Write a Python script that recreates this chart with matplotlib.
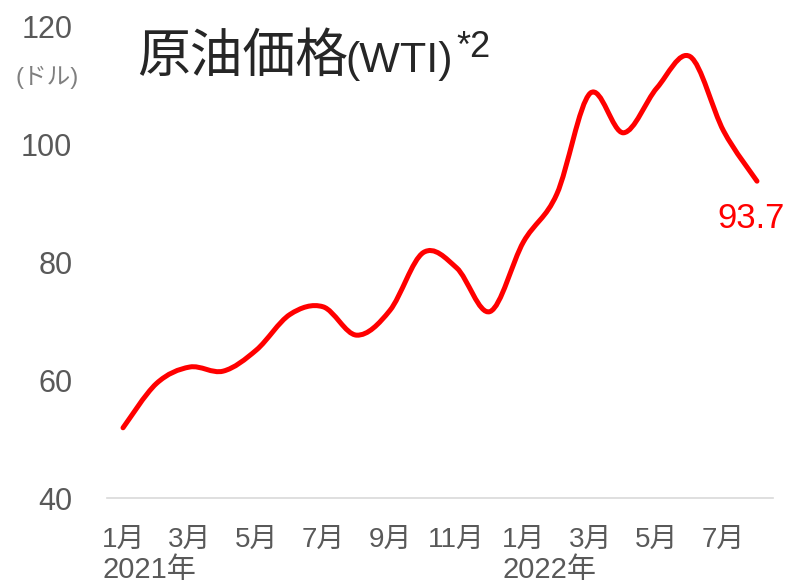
import matplotlib
matplotlib.use("Agg")
import matplotlib.pyplot as plt
from matplotlib.path import Path
from matplotlib.patches import PathPatch

plt.rcParams['font.family'] = ['Liberation Sans', 'Noto Sans CJK JP', 'DejaVu Sans']

# monthly WTI average, Jan 2021 - Aug 2022 (USD/bbl)
months = ["1月", "2月", "3月", "4月", "5月", "6月", "7月", "8月", "9月", "10月", "11月", "12月",
          "1月", "2月", "3月", "4月", "5月", "6月", "7月", "8月"]
prices = [51.9, 59.4, 62.2, 61.5, 65.1, 71.1, 72.4, 67.6, 71.8, 81.6, 79.0, 71.6,
          83.4, 91.5, 108.6, 101.9, 109.5, 114.8, 102.2, 93.7]
year_labels = [(0, "2021年"), (12, "2022年")]
y_ticks = [40, 60, 80, 100, 120]
last_label = "93.7"

W, H = 793, 584
fig = plt.figure(figsize=(W / 100, H / 100), dpi=100)
ax = fig.add_axes([107 / W, (H - 498) / H, 666 / W, 472 / H])

x = list(range(len(prices)))

# smoothed line (Excel style cubic bezier through the points)
pts = list(zip(x, prices))
verts = [pts[0]]
codes = [Path.MOVETO]
n = len(pts)
for i in range(n - 1):
    p0 = pts[max(i - 1, 0)]
    p1 = pts[i]
    p2 = pts[i + 1]
    p3 = pts[min(i + 2, n - 1)]
    c1 = (p1[0] + (p2[0] - p0[0]) / 6, p1[1] + (p2[1] - p0[1]) / 6)
    c2 = (p2[0] - (p3[0] - p1[0]) / 6, p2[1] - (p3[1] - p1[1]) / 6)
    verts += [c1, c2, p2]
    codes += [Path.CURVE4] * 3
ax.add_patch(PathPatch(Path(verts, codes), facecolor="none", edgecolor="#ff0000",
                       lw=3.6, capstyle="round", joinstyle="round"))

ax.set_xlim(-0.48, len(prices) - 0.52)
ax.set_ylim(40, 120)

for s in ["top", "right", "left"]:
    ax.spines[s].set_visible(False)
ax.spines["bottom"].set_color("#d9d9d9")
ax.spines["bottom"].set_linewidth(1.2)

ax.set_yticks(y_ticks)
ax.set_yticklabels([str(v) for v in y_ticks])
ax.tick_params(axis="y", length=0, labelsize=22, labelcolor="#595959", pad=25)
ax.set_xticks(x[::2])
ax.set_xticklabels(months[::2])
ax.tick_params(axis="x", length=0, labelsize=20, labelcolor="#595959", pad=21)

for idx, lab in year_labels:
    ax.annotate(lab, xy=(idx, 0), xycoords=("data", "axes fraction"),
                xytext=(-15, -52), textcoords="offset points",
                ha="left", va="center", fontsize=21, color="#595959")

ax.annotate(last_label, xy=(x[-1], prices[-1]), xytext=(20, -27),
            textcoords="offset points", ha="right", va="center",
            fontsize=25, color="#ff0000")

# title and unit
fig.text(137 / W, 1 - 72 / H, "原油価格", fontsize=38, color="#262626",
         family=['Noto Sans CJK JP'], va="baseline")
fig.text(345 / W, 1 - 72 / H, "(WTI)", fontsize=31, color="#262626", va="baseline")
fig.text(456 / W, 1 - 57 / H, "*2", fontsize=26, color="#262626", va="baseline")
fig.text(47 / W, 1 - 77 / H, "(ドル)", fontsize=17, color="#7f7f7f", ha="center", va="center")

fig.savefig("out.png", dpi=100, facecolor="white")
